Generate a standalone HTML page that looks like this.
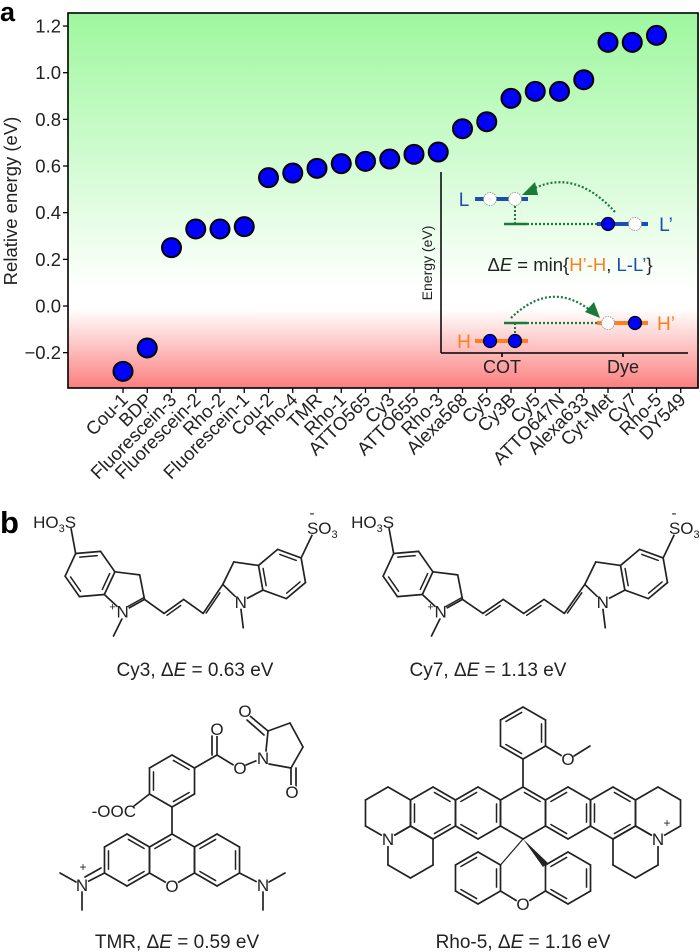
<!DOCTYPE html>
<html><head><meta charset="utf-8">
<style>
html,body{margin:0;padding:0;background:#fff;}
svg{display:block;font-family:"Liberation Sans",sans-serif;}
</style></head>
<body>
<svg id="fig" width="700" height="952" viewBox="0 0 700 952" xmlns="http://www.w3.org/2000/svg">
<defs>
<linearGradient id="bg" x1="0" y1="0" x2="0" y2="1">
<stop offset="0" stop-color="#9ef79e"/>
<stop offset="0.74" stop-color="#ffffff"/>
<stop offset="0.79" stop-color="#ffffff"/>
<stop offset="1" stop-color="#fb7f7f"/>
</linearGradient>
</defs>
<text x="0" y="21" font-size="27" font-weight="bold">a</text>
<text x="0" y="533" font-size="31" font-weight="bold">b</text>
<g id="chart"></g>
<g id="inset"></g>
<g id="mols"></g>
</svg>
<script>
const categories = ["Cou-1","BDP","Fluorescein-3","Fluorescein-2","Rho-2","Fluorescein-1","Cou-2","Rho-4","TMR","Rho-1","ATTO565","Cy3","ATTO655","Rho-3","Alexa568","Cy5","Cy3B","Cy5","ATTO647N","Alexa633","Cyt-Met","Cy7","Rho-5","DY549"];
const energies = [-0.28,-0.18,0.25,0.33,0.33,0.34,0.55,0.57,0.59,0.61,0.62,0.63,0.65,0.66,0.76,0.79,0.89,0.92,0.92,0.97,1.13,1.13,1.16,null];
const yTicks = [-0.2,0.0,0.2,0.4,0.6,0.8,1.0,1.2];
const yTickLabels = ["\u22120.2","0.0","0.2","0.4","0.6","0.8","1.0","1.2"];

const NS="http://www.w3.org/2000/svg";
function mk(parent,tag,attrs){const e=document.createElementNS(NS,tag);for(const k in attrs)e.setAttribute(k,attrs[k]);parent.appendChild(e);return e;}

const PL=68,PR=699,PT=13,PB=388;
function xPos(i){return 123+i*24.25;}
function yPos(v){return 306-v*233.3;}

const chart=document.getElementById('chart');
const bgRect=mk(chart,'rect',{x:PL,y:PT,width:PR-PL,height:PB-PT,fill:'url(#bg)'});


const frame=mk(chart,'rect',{x:PL,y:PT,width:PR-PL-1,height:PB-PT,fill:'none',stroke:'#000','stroke-width':1.6});



yTicks.forEach((v,k)=>{
  const y=yPos(v);
  const t=mk(chart,'line',{x1:PL-5,y1:y,x2:PL,y2:y,stroke:'#000','stroke-width':1.3});
  
  
  const l=mk(chart,'text',{x:PL-7,y:y+6.5,'font-size':18.5,'text-anchor':'end',fill:'#222'});
  l.textContent=yTickLabels[k];
  
  
});
const yt=mk(chart,'text',{x:0,y:0,'font-size':18.5,'text-anchor':'middle',fill:'#222',transform:'translate(17,201) rotate(-90)'});
yt.textContent='Relative energy (eV)';



categories.forEach((c,i)=>{
  const x=xPos(i);
  const t=mk(chart,'line',{x1:x,y1:PB,x2:x,y2:PB+5,stroke:'#000','stroke-width':1.3});
  
  
  const l=mk(chart,'text',{x:0,y:0,'font-size':18.5,'text-anchor':'end',fill:'#222',transform:`translate(${x+6},${PB+13}) rotate(-45)`});
  l.textContent=c;
  
  
});
energies.forEach((v,i)=>{
  if(v===null)return;
  const p=mk(chart,'circle',{cx:xPos(i),cy:yPos(v),r:9.5,fill:'#0000ff',stroke:'#000','stroke-width':2});
  
  
});

/* inset */
const ins=document.getElementById('inset');
function L(g,x1,y1,x2,y2,c,w,dash){const a={x1,y1,x2,y2,stroke:c||'#000','stroke-width':w||1.6};if(dash)a['stroke-dasharray']=dash;return mk(g,'line',a);}
function T(g,x,y,s,o){const a=Object.assign({x,y,'font-size':15,'text-anchor':'middle',fill:'#222'},o||{});const e=mk(g,'text',a);e.textContent=s;return e;}
const blue='#1a4fb0',orange='#ff7f1e',green='#1a7a3a';
L(ins,441,172,441,353,'#000',1.5);L(ins,441,353,688,353,'#000',1.5);
L(ins,502,353,502,357);L(ins,623,353,623,357);
T(ins,502,373,'COT',{'font-size':18});T(ins,623,373,'Dye',{'font-size':18});
T(ins,0,0,'Energy (eV)',{'font-size':14,transform:'translate(432,263) rotate(-90)'});
L(ins,475,199,528,199,blue,4);
T(ins,464,206,'L',{fill:blue,'font-size':19});
mk(ins,'circle',{cx:490,cy:199,r:6.5,fill:'#fff',stroke:'#888','stroke-width':0.8,'stroke-dasharray':'1.5 1'});
mk(ins,'circle',{cx:515,cy:199,r:6.5,fill:'#fff',stroke:'#888','stroke-width':0.8,'stroke-dasharray':'1.5 1'});
L(ins,515,206,515,224,green,2,'2 2');
L(ins,504,224,527,224,green,2.5);
L(ins,527,224,597,224,green,2.2,'2 2');
L(ins,597,224,648,224,blue,4);
mk(ins,'circle',{cx:608,cy:224,r:6.5,fill:'#0000ff',stroke:'#000','stroke-width':1.2});
mk(ins,'circle',{cx:635,cy:224,r:6.5,fill:'#fff',stroke:'#888','stroke-width':0.8,'stroke-dasharray':'1.5 1'});
T(ins,666,231,'L\u2019',{fill:blue,'font-size':19});
mk(ins,'path',{d:'M615,212 Q575,168 533,189',fill:'none',stroke:green,'stroke-width':2.2,'stroke-dasharray':'2 2'});
mk(ins,'path',{d:'M522,195 L535,182 L538,195 Z',fill:green});
const de=mk(ins,'text',{x:570,y:271,'font-size':18.5,'text-anchor':'middle',fill:'#222'});
de.innerHTML='\u0394<tspan font-style="italic">E</tspan> = min{<tspan fill="'+orange+'">H\u2019-H</tspan>, <tspan fill="'+blue+'">L-L\u2019</tspan>}';
L(ins,504,323,527,323,green,2.5);
L(ins,527,323,597,323,green,2.2,'2 2');
L(ins,597,323,648,323,orange,4);
mk(ins,'circle',{cx:608,cy:323,r:6.5,fill:'#fff',stroke:'#888','stroke-width':0.8,'stroke-dasharray':'1.5 1'});
mk(ins,'circle',{cx:635,cy:323,r:6.5,fill:'#0000ff',stroke:'#000','stroke-width':1.2});
T(ins,666,330,'H\u2019',{fill:orange,'font-size':19});
L(ins,515,323,515,336,green,2,'2 2');
L(ins,475,341,528,341,orange,4);
mk(ins,'circle',{cx:490,cy:341,r:6.5,fill:'#0000ff',stroke:'#000','stroke-width':1.2});
mk(ins,'circle',{cx:515,cy:341,r:6.5,fill:'#0000ff',stroke:'#000','stroke-width':1.2});
T(ins,464,348,'H',{fill:orange,'font-size':19});
mk(ins,'path',{d:'M511,318 Q550,280 590,310',fill:'none',stroke:green,'stroke-width':2.2,'stroke-dasharray':'2 2'});
mk(ins,'path',{d:'M600,318 L585,312 L594,302 Z',fill:green});

/* molecules */
const M=document.getElementById('mols');
function ln(x1,y1,x2,y2,w){return mk(M,'line',{x1,y1,x2,y2,stroke:'#222','stroke-width':w||1.7,'stroke-linecap':'round'});}
function dbl(x1,y1,x2,y2,cx,cy){
  const mx=(x1+x2)/2,my=(y1+y2)/2;let dx=cx-mx,dy=cy-my;const d=Math.hypot(dx,dy)||1;dx=dx/d*4;dy=dy/d*4;
  const sx=(x2-x1)*0.15,sy=(y2-y1)*0.15;
  ln(x1+dx+sx,y1+dy+sy,x2+dx-sx,y2+dy-sy,1.5);
}
function ring(cx,cy,r,rot,dbls,skip){
  const v=[];for(let k=0;k<6;k++){const a=(-90+60*k+rot)*Math.PI/180;v.push([cx+r*Math.cos(a),cy+r*Math.sin(a)]);}
  for(let k=0;k<6;k++){if(skip&&skip.includes(k))continue;const a=v[k],b=v[(k+1)%6];ln(a[0],a[1],b[0],b[1]);if(dbls&&dbls.includes(k))dbl(a[0],a[1],b[0],b[1],cx,cy);}
  return v;
}
function txt(x,y,s,size,anchor){const e=mk(M,'text',{x,y,'font-size':size||14,'text-anchor':anchor||'middle',fill:'#222'});e.innerHTML=s;return e;}
function lab(x,y,s,size){mk(M,'circle',{cx:x,cy:y,r:7,fill:'#fff'});return txt(x,y+6,s,size||17);}

function indoline(cx,cy,s,rot,mir){
  const c=Math.cos(rot*Math.PI/180),sn=Math.sin(rot*Math.PI/180);
  const P=(x,y)=>{const X=x*c-y*sn,Y=x*sn+y*c;return [cx+(mir?-X:X)*s,cy+Y*s];};
  const b=[[0,-1],[.866,-.5],[.866,.5],[0,1],[-.866,.5],[-.866,-.5]].map(p=>P(p[0],p[1]));
  const cc=P(0,0);
  for(let k=0;k<6;k++){const a=b[k],bb=b[(k+1)%6];ln(a[0],a[1],bb[0],bb[1]);if(k%2==1)dbl(a[0],a[1],bb[0],bb[1],cc[0],cc[1]);}
  const C3=P(1.817,-.809),C2=P(2.405,0),N=P(1.817,.809);
  ln(b[1][0],b[1][1],C3[0],C3[1]);ln(C3[0],C3[1],C2[0],C2[1]);ln(C2[0],C2[1],N[0],N[1]);ln(N[0],N[1],b[2][0],b[2][1]);
  const Me=P(1.9,1.85);ln(N[0],N[1]+6,Me[0],Me[1]);
  const S=P(-1.45,-1.32);ln(b[5][0],b[5][1],S[0],S[1]);
  return {C2,N,S};
}
function chain(p1,p2,n){const pts=[p1];const dx=(p2[0]-p1[0])/n;for(let k=1;k<n;k++)pts.push([p1[0]+dx*k,p1[1]+(k%2?14:0)]);pts.push(p2);
  for(let k=0;k<n;k++){ln(pts[k][0],pts[k][1],pts[k+1][0],pts[k+1][1]);if(k%2==1||k==n-1)dbl(pts[k][0],pts[k][1],pts[k+1][0],pts[k+1][1],(pts[k][0]+pts[k+1][0])/2,pts[k][1]+pts[k+1][1]>2*p1[1]+14?p1[1]-10:p1[1]+30);}}
function cyanine(lx,rx,n,cap,capx){
  const a=indoline(lx,574,25,25,false),b2=indoline(rx,574,25,10,true);
  lab(a.N[0],a.N[1],'N');txt(a.N[0]-10,a.N[1]-1,'+',11);
  lab(b2.N[0],b2.N[1],'N');
  dbl(a.C2[0],a.C2[1],a.N[0],a.N[1],a.N[0]+20,a.N[1]-20);
  txt(a.S[0]+5,a.S[1]-1,'HO<tspan font-size="11" dy="4">3</tspan><tspan dy="-4">S</tspan>',17,'end');
  txt(b2.S[0]-5,b2.S[1]-1,'SO<tspan font-size="11" dy="4">3</tspan>',17,'start');
  txt(b2.S[0],b2.S[1]-17,'-',15);
  chain(a.C2,b2.C2,n);
  txt(capx,676,cap,19);
}
cyanine(90,282,4,'Cy3, \u0394<tspan font-style="italic">E</tspan> = 0.63 eV',195);
cyanine(408,644,6,'Cy7, \u0394<tspan font-style="italic">E</tspan> = 1.13 eV',488);

// TMR
ring(127,860,26,0,[0,2,4]);
ring(172,860,26,0,[5],[2,3]);
ring(217,860,26,0,[1,3,5]);
ln(172,886,194.5,873);ln(172,886,149.5,873);
lab(172,886,'O');
ring(172,781,26,0,[0,2,4]);
ln(172,807,172,834);
ln(149.5,794,134,806);txt(136,817,'-OOC',17,'end');
ln(194.5,768,217,755);ln(217,755,217,735);ln(212,755,212,736);lab(217,729,'O');
ln(217,755,235,766);lab(240,768,'O');ln(246,765,258,760);
lab(263,758,'N');
ln(266,751,268,731);ln(268,731,290,723);ln(290,723,303,747);ln(303,747,291,768);ln(291,768,269,764);
ln(268,731,250,716);ln(264,735,247,720);lab(245,711,'O');
ln(291,768,291,787);ln(296,768,296,787);lab(292,792,'O');
ln(104.5,873,87,882);ln(101,868,85,877);lab(82,885,'N');txt(83,871,'+',12);ln(76,882,60,873);ln(82,892,82,910);
ln(239.5,873,257,882);lab(263,885,'N');ln(269,882,285,873);ln(263,892,263,910);
txt(177,948,'TMR, \u0394<tspan font-style="italic">E</tspan> = 0.59 eV',19);

// Rho-5
ring(433,813,26,0,[0,2,4]);ring(478,813,26,0,[1,3,5]);ring(523,813,26,0,[0],[]);
ring(568,813,26,0,[1,3,5]);ring(613,813,26,0,[0,2,4]);
ring(388,813,26,0,[]);ring(410.5,852,26,0,[]);
ring(658,813,26,0,[]);ring(635.5,852,26,0,[]);
lab(388,839,'N');lab(658,839,'N');txt(667,827,'+',12);
ring(523,733,26,0,[1,3,5]);ln(523,759,523,787);
ln(545.5,746,562,756);lab(568,759,'O');ln(574,756,590,746);
ring(478,878,26,0,[1,3,5],[]);ring(568,878,26,0,[1,3,5]);
ln(500.5,891,517,901);ln(545.5,891,529,901);lab(523,904,'O');
ln(523,839,500.5,865,1.2);mk(M,'path',{d:'M523,839 L543,867 L548,863 Z',fill:'#222'});
txt(523,948,'Rho-5, \u0394<tspan font-style="italic">E</tspan> = 1.16 eV',19);
</script>
</body></html>
